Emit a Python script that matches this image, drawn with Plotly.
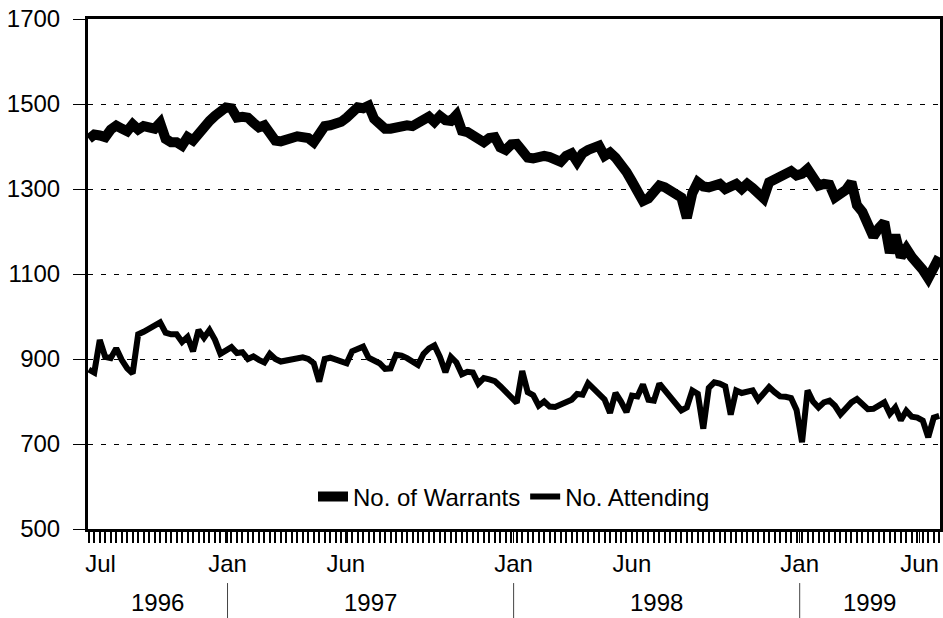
import pandas as pd
import plotly.graph_objects as go

# ---- data (weekly) ----
start_week = "1996-07-08"
warrants = [1418, 1428, 1426, 1422, 1440, 1449, 1442, 1436, 1452, 1440,
            1448, 1444, 1442, 1456, 1418, 1410, 1410, 1402, 1422, 1414,
            1432, 1445, 1460, 1472, 1482, 1492, 1490, 1468, 1470, 1468,
            1456, 1445, 1450, 1430, 1414, 1412, 1414, 1420, 1424, 1424,
            1420, 1410, 1430, 1448, 1450, 1452, 1458, 1468, 1478, 1492,
            1490, 1496, 1465, 1452, 1442, 1442, 1446, 1449, 1450, 1448,
            1455, 1466, 1470, 1458, 1472, 1462, 1460, 1474, 1437, 1434,
            1428, 1418, 1410, 1420, 1422, 1398, 1392, 1405, 1406, 1390,
            1374, 1372, 1376, 1378, 1375, 1370, 1364, 1378, 1384, 1364,
            1384, 1392, 1398, 1402, 1378, 1386, 1374, 1360, 1340, 1318,
            1296, 1272, 1278, 1298, 1308, 1304, 1298, 1292, 1280, 1232,
            1290, 1316, 1306, 1304, 1310, 1312, 1300, 1308, 1312, 1300,
            1312, 1302, 1286, 1278, 1316, 1322, 1330, 1338, 1342, 1332,
            1336, 1347, 1326, 1308, 1312, 1310, 1280, 1288, 1298, 1316,
            1262, 1246, 1222, 1188, 1208, 1222, 1150, 1192, 1140, 1160,
            1140, 1127, 1110, 1090, 1118, 1140]
attending = [875, 868, 945, 905, 902, 925, 898, 878, 866, 958,
             964, 972, 980, 986, 962, 958, 958, 940, 952, 918,
             968, 950, 968, 945, 912, 922, 928, 914, 916, 900,
             906, 898, 892, 912, 900, 894, 897, 900, 902, 904,
             900, 890, 847, 900, 903, 899, 893, 890, 918, 922,
             929, 903, 896, 890, 877, 878, 910, 908, 902, 892,
             886, 912, 925, 932, 905, 869, 905, 892, 864, 870,
             868, 842, 855, 852, 848, 836, 822, 808, 797, 872,
             822, 815, 790, 800, 788, 787, 793, 800, 804, 818,
             816, 843, 830, 818, 805, 773, 820, 800, 775, 814,
             812, 840, 804, 802, 842, 826, 812, 795, 779, 786,
             826, 818, 736, 832, 845, 842, 836, 769, 826, 820,
             824, 826, 804, 818, 834, 822, 812, 811, 808, 780,
             704, 826, 800, 786, 798, 802, 790, 770, 784, 798,
             806, 792, 782, 783, 790, 798, 771, 786, 756, 778,
             764, 762, 755, 716, 762, 766]
series_names = ["No. of Warrants", "No. Attending"]

month_tick_dates = ["1996-07-23", "1997-01-01", "1997-06-01", "1998-01-01",
                    "1998-06-01", "1999-01-01", "1999-06-03"]
month_tick_labels = ["Jul", "Jan", "Jun", "Jan", "Jun", "Jan", "Jun"]
year_labels = ["1996", "1997", "1998", "1999"]
year_starts = ["1997-01-01", "1998-01-01", "1999-01-01"]
y_ticks = [500, 700, 900, 1100, 1300, 1500, 1700]

dates = pd.date_range(start_week, periods=len(warrants), freq="7D")
x_lo = dates[0] - pd.Timedelta(days=1)
x_hi = dates[-1] + pd.Timedelta(days=1)

FONT = "Liberation Sans, Arial, sans-serif"

fig = go.Figure()
fig.add_trace(go.Scatter(x=dates, y=warrants, name=series_names[0], mode="lines",
                         line=dict(color="black", width=10)))
fig.add_trace(go.Scatter(x=dates, y=attending, name=series_names[1], mode="lines",
                         line=dict(color="black", width=6)))

# year labels and separators
bounds = [x_lo] + [pd.Timestamp(d) for d in year_starts] + [x_hi]
for i, lab in enumerate(year_labels):
    mid = bounds[i] + (bounds[i + 1] - bounds[i]) / 2
    fig.add_annotation(x=mid, y=-0.145, xref="x", yref="paper", text=lab,
                       showarrow=False, font=dict(size=24, color="black", family=FONT),
                       yanchor="middle")
for d in year_starts:
    fig.add_shape(type="line", x0=d, x1=d, xref="x", y0=-0.106, y1=-0.18, yref="paper",
                  line=dict(color="#444", width=1))

fig.update_layout(
    width=943, height=618,
    margin=dict(l=88, r=3, t=19, b=89, autoexpand=False),
    paper_bgcolor="white", plot_bgcolor="white",
    font=dict(family=FONT, size=23, color="black"),
    showlegend=True,
    legend=dict(orientation="h", x=0.5, xanchor="center", y=0.063, yanchor="middle",
                bgcolor="rgba(0,0,0,0)", font=dict(size=24), itemwidth=30,
                tracegroupgap=0),
    xaxis=dict(type="date", range=[x_lo, x_hi], tickvals=month_tick_dates,
               ticktext=month_tick_labels, ticks="outside", ticklen=11, tickwidth=1,
               tickcolor="black", showgrid=False, showline=True, linecolor="black",
               linewidth=3, mirror=True, tickfont=dict(size=24), automargin=False,
               minor=dict(ticks="outside", ticklen=11, tickwidth=1.5, tickcolor="black",
                          dtick=7 * 86400000, tick0=start_week, showgrid=False),
               zeroline=False),
    yaxis=dict(range=[500, 1700], tickvals=y_ticks, ticks="outside", ticklen=12,
               tickwidth=1, tickcolor="black", showgrid=True, gridcolor="black",
               gridwidth=1, griddash="5px,8px", showline=True, linecolor="black",
               linewidth=3, mirror=True, zeroline=False, tickfont=dict(size=24),
               automargin=False, ticklabelstandoff=8),
)

fig.write_html("out.html", config={"displayModeBar": False},
               post_script="document.body.style.margin='0';"
                           "document.body.style.overflow='hidden';")
